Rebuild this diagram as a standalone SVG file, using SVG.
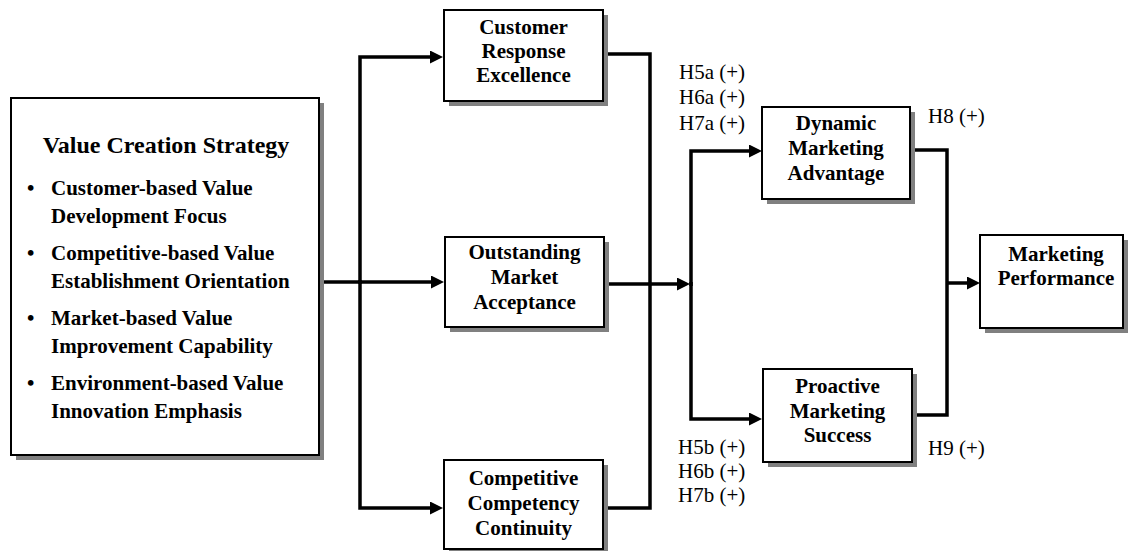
<svg xmlns="http://www.w3.org/2000/svg" width="1129" height="551" viewBox="0 0 1129 551">
  <style>
    .box { fill: #ffffff; stroke: #000000; stroke-width: 2; }
    .shadow { fill: #808080; stroke: none; }
    .node-text { font-family: "Liberation Serif", "Times New Roman", serif; font-size: 21px; font-weight: bold; fill: #000000; text-anchor: middle; }
    .title { font-family: "Liberation Serif", "Times New Roman", serif; font-size: 24px; font-weight: bold; fill: #000000; text-anchor: middle; }
    .item { font-family: "Liberation Serif", "Times New Roman", serif; font-size: 21px; font-weight: bold; fill: #000000; }
    .hyp { font-family: "Liberation Serif", "Times New Roman", serif; font-size: 21px; fill: #000000; }
    .wire { fill: none; stroke: #000000; stroke-width: 3.5; stroke-linejoin: miter; }
  </style>
  <defs>
    <marker id="arrow" markerUnits="userSpaceOnUse" markerWidth="14" markerHeight="14" refX="3" refY="6.5" orient="auto">
      <path d="M0,0 L13,6.5 L0,13 Z" fill="#000000"/>
    </marker>
  </defs>

  <rect width="1129" height="551" fill="#ffffff"/>

  <!-- connectors -->
  <g id="connectors">
    <path class="wire" d="M319,282 H434" marker-end="url(#arrow)"/>
    <path class="wire" d="M360,284 V57 H433" marker-end="url(#arrow)"/>
    <path class="wire" d="M360,280 V508 H433" marker-end="url(#arrow)"/>
    <path class="wire" d="M603,54 H650 V508 H603"/>
    <path class="wire" d="M605,284 H680" marker-end="url(#arrow)"/>
    <path class="wire" d="M691,286 V151 H752" marker-end="url(#arrow)"/>
    <path class="wire" d="M691,282 V419 H752" marker-end="url(#arrow)"/>
    <path class="wire" d="M910,150 H947 V415 H912"/>
    <path class="wire" d="M947,283 H970" marker-end="url(#arrow)"/>
  </g>

  <!-- Value Creation Strategy -->
  <g id="value-creation-strategy">
    <rect class="shadow" x="16" y="103" width="308" height="357"/>
    <rect class="box" x="11" y="98" width="308" height="357"/>
    <text class="title" x="166" y="153">Value Creation Strategy</text>
    <text class="item" x="27" y="195">•</text>
    <text class="item" x="51" y="195">Customer-based Value</text>
    <text class="item" x="51" y="223">Development Focus</text>
    <text class="item" x="27" y="260">•</text>
    <text class="item" x="51" y="260">Competitive-based Value</text>
    <text class="item" x="51" y="288">Establishment Orientation</text>
    <text class="item" x="27" y="325">•</text>
    <text class="item" x="51" y="325">Market-based Value</text>
    <text class="item" x="51" y="353">Improvement Capability</text>
    <text class="item" x="27" y="390">•</text>
    <text class="item" x="51" y="390">Environment-based Value</text>
    <text class="item" x="51" y="418">Innovation Emphasis</text>
  </g>

  <!-- Customer Response Excellence -->
  <g id="customer-response-excellence">
    <rect class="shadow" x="449" y="15" width="159" height="91"/>
    <rect class="box" x="444" y="10" width="159" height="91"/>
    <text class="node-text" x="523.5" y="34">Customer</text>
    <text class="node-text" x="523.5" y="58">Response</text>
    <text class="node-text" x="523.5" y="82">Excellence</text>
  </g>

  <!-- Outstanding Market Acceptance -->
  <g id="outstanding-market-acceptance">
    <rect class="shadow" x="450" y="242" width="159" height="90"/>
    <rect class="box" x="445" y="237" width="159" height="90"/>
    <text class="node-text" x="524.5" y="259">Outstanding</text>
    <text class="node-text" x="524.5" y="284">Market</text>
    <text class="node-text" x="524.5" y="309">Acceptance</text>
  </g>

  <!-- Competitive Competency Continuity -->
  <g id="competitive-competency-continuity">
    <rect class="shadow" x="449" y="465" width="159" height="90"/>
    <rect class="box" x="444" y="460" width="159" height="89"/>
    <text class="node-text" x="523.5" y="485">Competitive</text>
    <text class="node-text" x="523.5" y="510">Competency</text>
    <text class="node-text" x="523.5" y="535">Continuity</text>
  </g>

  <!-- Dynamic Marketing Advantage -->
  <g id="dynamic-marketing-advantage">
    <rect class="shadow" x="767" y="112" width="148" height="92"/>
    <rect class="box" x="762" y="107" width="148" height="92"/>
    <text class="node-text" x="836" y="130">Dynamic</text>
    <text class="node-text" x="836" y="155">Marketing</text>
    <text class="node-text" x="836" y="180">Advantage</text>
  </g>

  <!-- Proactive Marketing Success -->
  <g id="proactive-marketing-success">
    <rect class="shadow" x="768" y="374" width="149" height="93"/>
    <rect class="box" x="763" y="369" width="149" height="93"/>
    <text class="node-text" x="837.5" y="393">Proactive</text>
    <text class="node-text" x="837.5" y="418">Marketing</text>
    <text class="node-text" x="837.5" y="442">Success</text>
  </g>

  <!-- Marketing Performance -->
  <g id="marketing-performance">
    <rect class="shadow" x="985" y="240" width="143" height="93"/>
    <rect class="box" x="980" y="235" width="143" height="93"/>
    <text class="node-text" x="1056" y="261">Marketing</text>
    <text class="node-text" x="1056" y="285">Performance</text>
  </g>

  <!-- hypothesis labels -->
  <g id="hypotheses">
    <text class="hyp" x="679" y="79">H5a (+)</text>
    <text class="hyp" x="679" y="104">H6a (+)</text>
    <text class="hyp" x="679" y="130">H7a (+)</text>
    <text class="hyp" x="678" y="454">H5b (+)</text>
    <text class="hyp" x="678" y="478">H6b (+)</text>
    <text class="hyp" x="678" y="502">H7b (+)</text>
    <text class="hyp" x="928" y="123">H8 (+)</text>
    <text class="hyp" x="928" y="455">H9 (+)</text>
  </g>
</svg>
